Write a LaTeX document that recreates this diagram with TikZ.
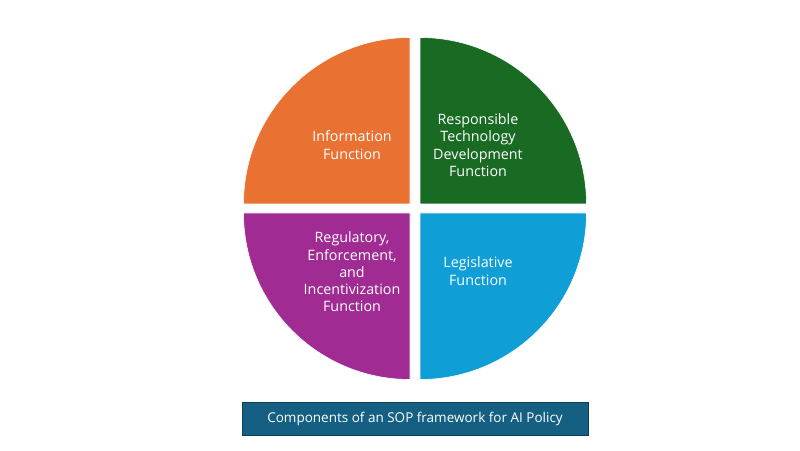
\documentclass[tikz,border=0pt]{standalone}
\usepackage{fontspec}
\setmainfont{Open Sans}
\usepackage{xcolor}
\usepackage{tikz}
\usetikzlibrary{positioning}
\definecolor{infoorange}{HTML}{E97132}
\definecolor{techgreen}{HTML}{196B24}
\definecolor{regpurple}{HTML}{A02B93}
\definecolor{legisblue}{HTML}{0F9ED5}
\definecolor{capblue}{HTML}{156082}
\definecolor{capedge}{HTML}{0E3E55}

\begin{document}
\begin{tikzpicture}[
  x=1pt, y=1pt,
  quad/.style={draw=white, line width=0.6pt},
  fn/.style={text=white, align=center, inner sep=0pt,
    font=\fontsize{14.3}{17.3}\selectfont},
  caption/.style={draw=capedge, fill=capblue, text=white, line width=1pt,
    minimum width=346pt, minimum height=33pt, inner sep=0pt,
    font=\fontsize{13.5}{16}\selectfont}
]
\useasboundingbox (0,0) rectangle (800,450);
\fill[white] (0,0) rectangle (800,450);
% quadrants
\filldraw[quad, fill=infoorange] (410,246) -- ++(-166.5,0)
  arc[start angle=180, end angle=90, radius=166.5] -- cycle;
\filldraw[quad, fill=techgreen] (420,246) -- ++(0,166.5)
  arc[start angle=90, end angle=0, radius=166.5] -- cycle;
\filldraw[quad, fill=regpurple] (410,237) -- ++(-166.5,0)
  arc[start angle=180, end angle=270, radius=166.5] -- cycle;
\filldraw[quad, fill=legisblue] (420,237) -- ++(166.5,0)
  arc[start angle=0, end angle=-90, radius=166.5] -- cycle;
% labels
\node[fn] (info) at (352,305) {Information\\Function};
\node[fn] (tech) at (478,305) {Responsible\\Technology\\Development\\Function};
\node[fn] (reg) at (352,178) {Regulatory,\\Enforcement,\\and\\Incentivization\\Function};
\node[fn] (legis) at (478,179) {Legislative\\Function};
% caption
\node[caption] (cap) at (415,31.5) {Components of an SOP framework for AI Policy};
\end{tikzpicture}
\end{document}
